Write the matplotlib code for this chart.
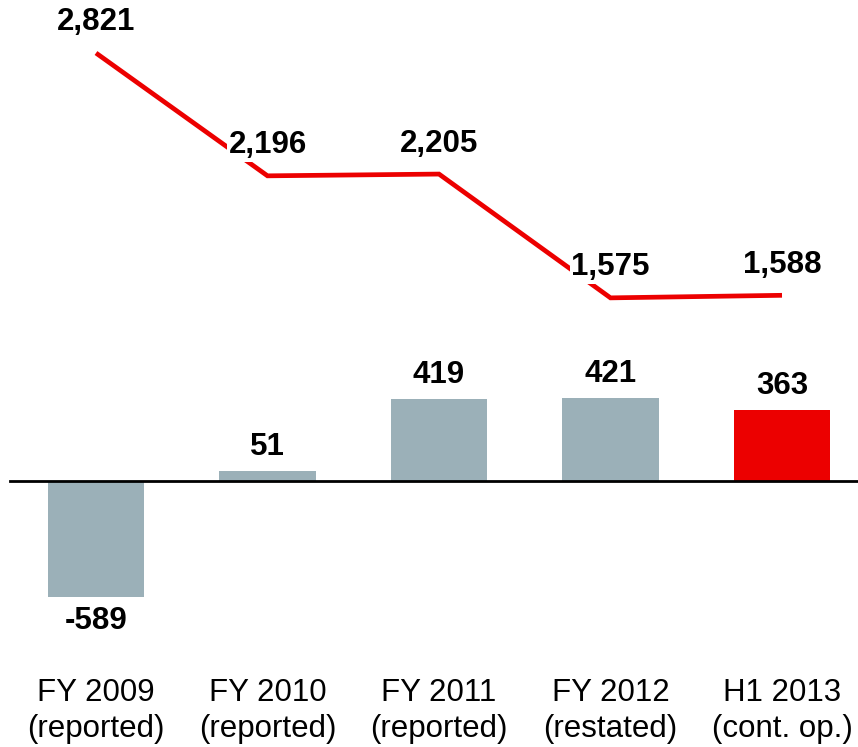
import matplotlib
matplotlib.use("Agg")
import matplotlib.pyplot as plt

categories = ["FY 2009\n(reported)", "FY 2010\n(reported)", "FY 2011\n(reported)",
              "FY 2012\n(restated)", "H1 2013\n(cont. op.)"]
bar_values = [-589, 51, 419, 421, 363]
line_values = [2821, 2196, 2205, 1575, 1588]
bar_colors = ["#9BB0B8", "#9BB0B8", "#9BB0B8", "#9BB0B8", "#EC0000"]

plt.rcParams['font.family'] = ['Liberation Sans', 'DejaVu Sans']

W, H = 858, 747
fig = plt.figure(figsize=(W / 100, H / 100), dpi=100)
ax = fig.add_axes([0, 0, 1, 1])

px_per_unit = 0.1965
zero_px = 481
x0_px, step_px = 96, 171.5
ax.set_xlim(-x0_px / step_px, (W - x0_px) / step_px)
ax.set_ylim((zero_px - H) / px_per_unit, zero_px / px_per_unit)
ax.axis('off')

x = list(range(len(categories)))
ax.bar(x, bar_values, width=0.56, color=bar_colors, zorder=2)
ax.axhline(0, xmin=10 / W, xmax=1, color="black", lw=2.0, zorder=3)

for xi, v in zip(x, bar_values):
    off = 17.3 if v >= 0 else -17.3
    ax.annotate(f"{v:,}", (xi, v), xytext=(0, off), textcoords="offset points",
                ha="center", va="center", fontsize=22.5, fontweight="bold")

# category labels
label_y = (zero_px - 711) / px_per_unit
for xi, c in zip(x, categories):
    ax.text(xi, label_y, c, ha="center", va="center", fontsize=22.5,
            linespacing=1.28, color="black")

# line on offset axis
offset = 643
ax2 = fig.add_axes([0, 0, 1, 1], sharex=ax)
ax2.set_ylim(ax.get_ylim()[0] + offset, ax.get_ylim()[1] + offset)
ax2.axis('off')
ax2.patch.set_alpha(0)
ax2.plot(x, line_values, color="#EC0000", lw=3.4, solid_capstyle="butt",
         solid_joinstyle="miter", zorder=2)
for xi, v in zip(x, line_values):
    ax2.annotate(f"{v:,}", (xi, v), xytext=(0, 22.0), textcoords="offset points",
                 ha="center", va="center", fontsize=22.5, fontweight="bold",
                 bbox=dict(boxstyle="square,pad=0.05", fc="white", ec="none"),
                 zorder=5)

fig.savefig("out.png", dpi=100)
